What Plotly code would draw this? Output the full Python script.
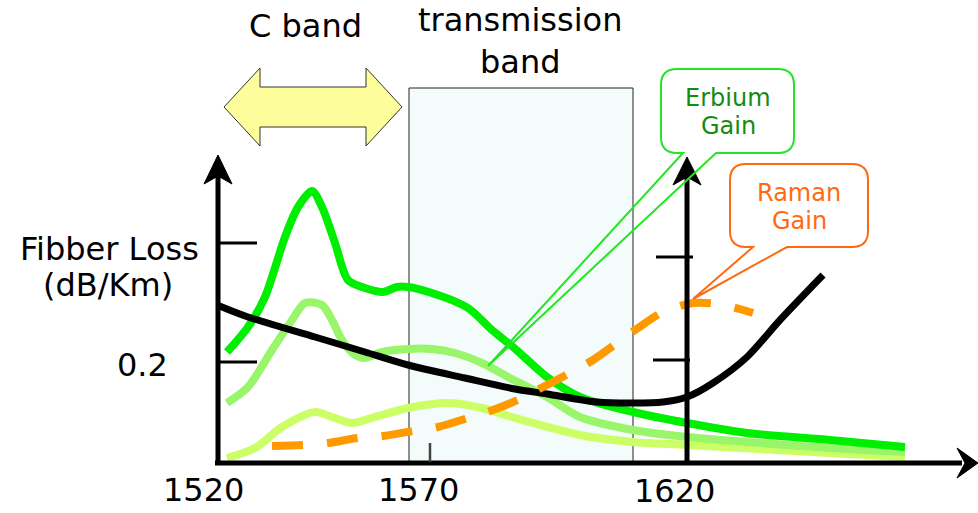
import plotly.graph_objects as go

# ---- data (schematic coordinates) ----
erbium_high_x = [227, 248, 265, 285, 298, 312, 322, 335, 348, 365, 383, 397, 408, 432, 468, 492, 513, 547, 580, 633, 687, 747, 830, 905]
erbium_high_y = [352, 327, 297, 237, 207, 191, 207, 243, 280, 288, 292, 287, 287, 293, 308, 330, 347, 377, 397, 412, 423, 433, 440, 447]

erbium_mid_x = [227, 248, 272, 292, 305, 322, 332, 342, 355, 365, 382, 408, 432, 455, 482, 510, 547, 580, 633, 687, 747, 830, 905]
erbium_mid_y = [403, 387, 350, 320, 303, 305, 320, 340, 355, 358, 352, 349, 349, 353, 363, 378, 397, 417, 430, 437, 442, 448, 452]

erbium_low_x = [227, 255, 282, 315, 332, 352, 375, 408, 448, 482, 515, 580, 633, 687, 830, 905]
erbium_low_y = [458, 448, 427, 412, 417, 423, 417, 408, 403, 408, 418, 435, 442, 445, 453, 457]

loss_x = [217, 248, 315, 365, 408, 465, 515, 547, 597, 633, 663, 687, 713, 747, 780, 823]
loss_y = [305, 317, 337, 352, 365, 378, 389, 394, 402, 403, 402, 397, 383, 357, 320, 275]

raman_x = [272, 303, 328, 358, 383, 413, 438, 468, 493, 520, 543, 570, 593, 617, 638, 663, 693, 718, 743, 753]
raman_y = [446, 445, 443, 438, 436, 431, 427, 418, 410, 399, 387, 373, 360, 343, 328, 312, 303, 304, 310, 313]

tick_labels = ["1520", "1570", "1620"]
tick_label_x = [203, 418, 674]
tick_label_y = [490, 490, 491]

FONT = "DejaVu Sans"

fig = go.Figure()

def line(xs, ys, color, width, dash=None, shape="linear", smoothing=None):
    ln = dict(color=color, width=width, shape=shape)
    if dash:
        ln["dash"] = dash
    if smoothing is not None:
        ln["smoothing"] = smoothing
    fig.add_trace(go.Scatter(x=xs, y=ys, mode="lines", line=ln,
                             hoverinfo="skip", showlegend=False))

def poly(xs, ys, fill, outline, width):
    fig.add_trace(go.Scatter(x=xs, y=ys, mode="lines", fill="toself",
                             fillcolor=fill, line=dict(color=outline, width=width),
                             hoverinfo="skip", showlegend=False))

# C band double arrow
poly([224, 260, 260, 366, 366, 402, 366, 366, 260, 260, 224],
     [107, 68, 87, 87, 68, 107, 146, 127, 127, 146, 107],
     "#fdfd9b", "#333333", 1)

# curves
line(erbium_low_x, erbium_low_y, "#ccff66", 8, shape="spline", smoothing=0.8)
line(erbium_mid_x, erbium_mid_y, "#99f56a", 8, shape="spline", smoothing=0.8)
line(erbium_high_x, erbium_high_y, "#00ee00", 8, shape="spline", smoothing=0.8)
line(loss_x, loss_y, "#000000", 7, shape="spline", smoothing=0.8)
line(raman_x, raman_y, "#ff9900", 8, dash="31px,24px", shape="spline", smoothing=0.8)

# axes
line([218, 218], [465, 172], "#000000", 5)
line([215, 962], [463, 463], "#000000", 5)
line([687, 687], [465, 175], "#000000", 5)
# ticks
line([218, 257], [243, 243], "#000000", 3)
line([218, 257], [362, 362], "#000000", 3)
line([656, 693], [257, 257], "#000000", 3)
line([653, 690], [360, 360], "#000000", 3)
line([430, 430], [443, 462], "#444444", 2.5)
# arrowheads
poly([218, 204, 218, 232, 218], [155, 184, 176, 184, 155], "#000000", "#000000", 1)
poly([687, 673, 687, 701, 687], [157, 185, 177, 185, 157], "#000000", "#000000", 1)
poly([978, 957, 965, 957, 978], [463, 448, 463, 478, 463], "#000000", "#000000", 1)

def callout(x0, x1, y0, y1, r, p1, p2, tip):
    return (f"M {x0+r},{y0} L {x1-r},{y0} Q {x1},{y0} {x1},{y0+r} "
            f"L {x1},{y1-r} Q {x1},{y1} {x1-r},{y1} L {p2},{y1} L {tip[0]},{tip[1]} "
            f"L {p1},{y1} L {x0+r},{y1} Q {x0},{y1} {x0},{y1-r} L {x0},{y0+r} "
            f"Q {x0},{y0} {x0+r},{y0} Z")

shapes = [
    dict(type="rect", xref="x", yref="y", x0=409, x1=633, y0=88, y1=463,
         fillcolor="#f3fbfb", line=dict(color="#222222", width=1), layer="below"),
    dict(type="path", xref="x", yref="y",
         path=callout(661, 794, 69, 153, 16, 683, 716, (488, 366)),
         line=dict(color="#22e622", width=2), fillcolor="rgba(0,0,0,0)", layer="above"),
    dict(type="path", xref="x", yref="y",
         path=callout(730, 868, 164, 247, 16, 753, 787, (693, 299)),
         line=dict(color="#ff6a10", width=2), fillcolor="rgba(0,0,0,0)", layer="above"),
]

def text(x, y, s, size, color="#000000"):
    return dict(x=x, y=y, xref="x", yref="y", text=s, showarrow=False,
                xanchor="center", yanchor="middle",
                font=dict(family=FONT, size=size, color=color))

annotations = [
    text(305, 26, "C band", 32),
    text(520, 41, "transmission<br>band", 32),
    text(109, 249, "Fibber Loss", 32),
    text(108, 285, "(dB/Km)", 32),
    text(142, 365, "0.2", 32),
    text(728, 98, "Erbium", 24, "#128c12"),
    text(728, 126, "Gain", 24, "#128c12"),
    text(799, 193, "Raman", 24, "#ff6a10"),
    text(799, 221, "Gain", 24, "#ff6a10"),
]
for s, x, y in zip(tick_labels, tick_label_x, tick_label_y):
    annotations.append(text(x, y, s, 32))

fig.update_layout(
    width=978, height=513,
    margin=dict(l=0, r=0, t=0, b=0),
    paper_bgcolor="white", plot_bgcolor="white",
    xaxis=dict(range=[0, 978], visible=False, fixedrange=True),
    yaxis=dict(range=[513, 0], visible=False, fixedrange=True),
    shapes=shapes, annotations=annotations, showlegend=False,
)

fig.write_html("out.html", config={"displayModeBar": False},
               post_script="document.body.style.margin='0px';document.body.style.overflow='hidden';")
